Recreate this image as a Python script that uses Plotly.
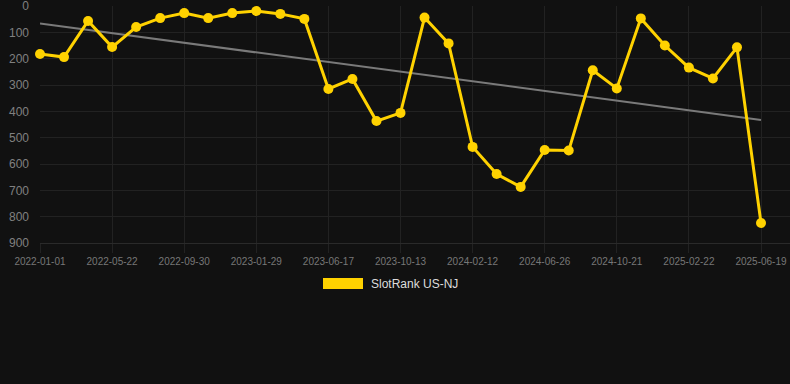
import numpy as np
import plotly.graph_objects as go

rank_values = [182, 194, 57, 156, 80, 46, 27, 46, 27, 19, 30, 49, 315, 277, 437, 406,
               44, 142, 535, 638, 687, 547, 549, 244, 313, 47, 150, 234, 275, 157, 824]
tick_index = [0, 3, 6, 9, 12, 15, 18, 21, 24, 27, 30]
tick_dates = ["2022-01-01", "2022-05-22", "2022-09-30", "2023-01-29", "2023-06-17",
              "2023-10-13", "2024-02-12", "2024-06-26", "2024-10-21", "2025-02-22", "2025-06-19"]
y_ticks = [0, 100, 200, 300, 400, 500, 600, 700, 800, 900]
series_name = "SlotRank US-NJ"

xi = np.arange(len(rank_values))
coef = np.polyfit(xi, rank_values, 1)
trend = np.polyval(coef, xi)

fig = go.Figure()
fig.add_trace(go.Scatter(x=[xi[0], xi[-1]], y=[trend[0], trend[-1]], mode="lines",
                         line=dict(color="#7a7a7a", width=2), showlegend=False, hoverinfo="skip"))
fig.add_trace(go.Scatter(x=xi, y=rank_values, mode="lines+markers", name=series_name,
                         line=dict(color="#FFD200", width=3), cliponaxis=False,
                         marker=dict(color="#FFD200", size=10), showlegend=False))

px_per_idx = 721 / 30
fig.update_layout(
    width=790, height=384,
    margin=dict(l=40, r=0, t=6, b=141),
    paper_bgcolor="#111111", plot_bgcolor="#111111",
    font=dict(family="Liberation Sans, Arial, sans-serif", color="#888888"),
    xaxis=dict(range=[0, 750 / px_per_idx], tickvals=tick_index, ticktext=tick_dates,
               showgrid=True, gridcolor="#222222", gridwidth=1, zeroline=False,
               ticks="outside", ticklen=9, tickcolor="#222222",
               showline=True, linecolor="#2a2a2a",
               tickfont=dict(size=10, color="#777777")),
    yaxis=dict(range=[900, 0], tickvals=y_ticks, showgrid=True, gridcolor="#222222",
               zeroline=False, ticks="", tickfont=dict(size=12, color="#808080"),
               ticklabelstandoff=10, ticklabeloverflow="allow"),
    showlegend=False,
)

fig.add_shape(type="rect", xref="paper", yref="paper",
              x0=(323 - 40) / 750, x1=(363 - 40) / 750,
              y0=(243 - 289) / 237, y1=(243 - 278) / 237,
              fillcolor="#FFD200", line=dict(width=0))
fig.add_annotation(xref="paper", yref="paper", x=(369 - 40) / 750, y=(243 - 284) / 237,
                   text=series_name, showarrow=False, xanchor="left", yanchor="middle",
                   font=dict(size=12, color="#dddddd"))

fig.write_html("out.html", config={"displayModeBar": False},
               post_script="document.body.style.margin='0';document.body.style.background='#111111';")
